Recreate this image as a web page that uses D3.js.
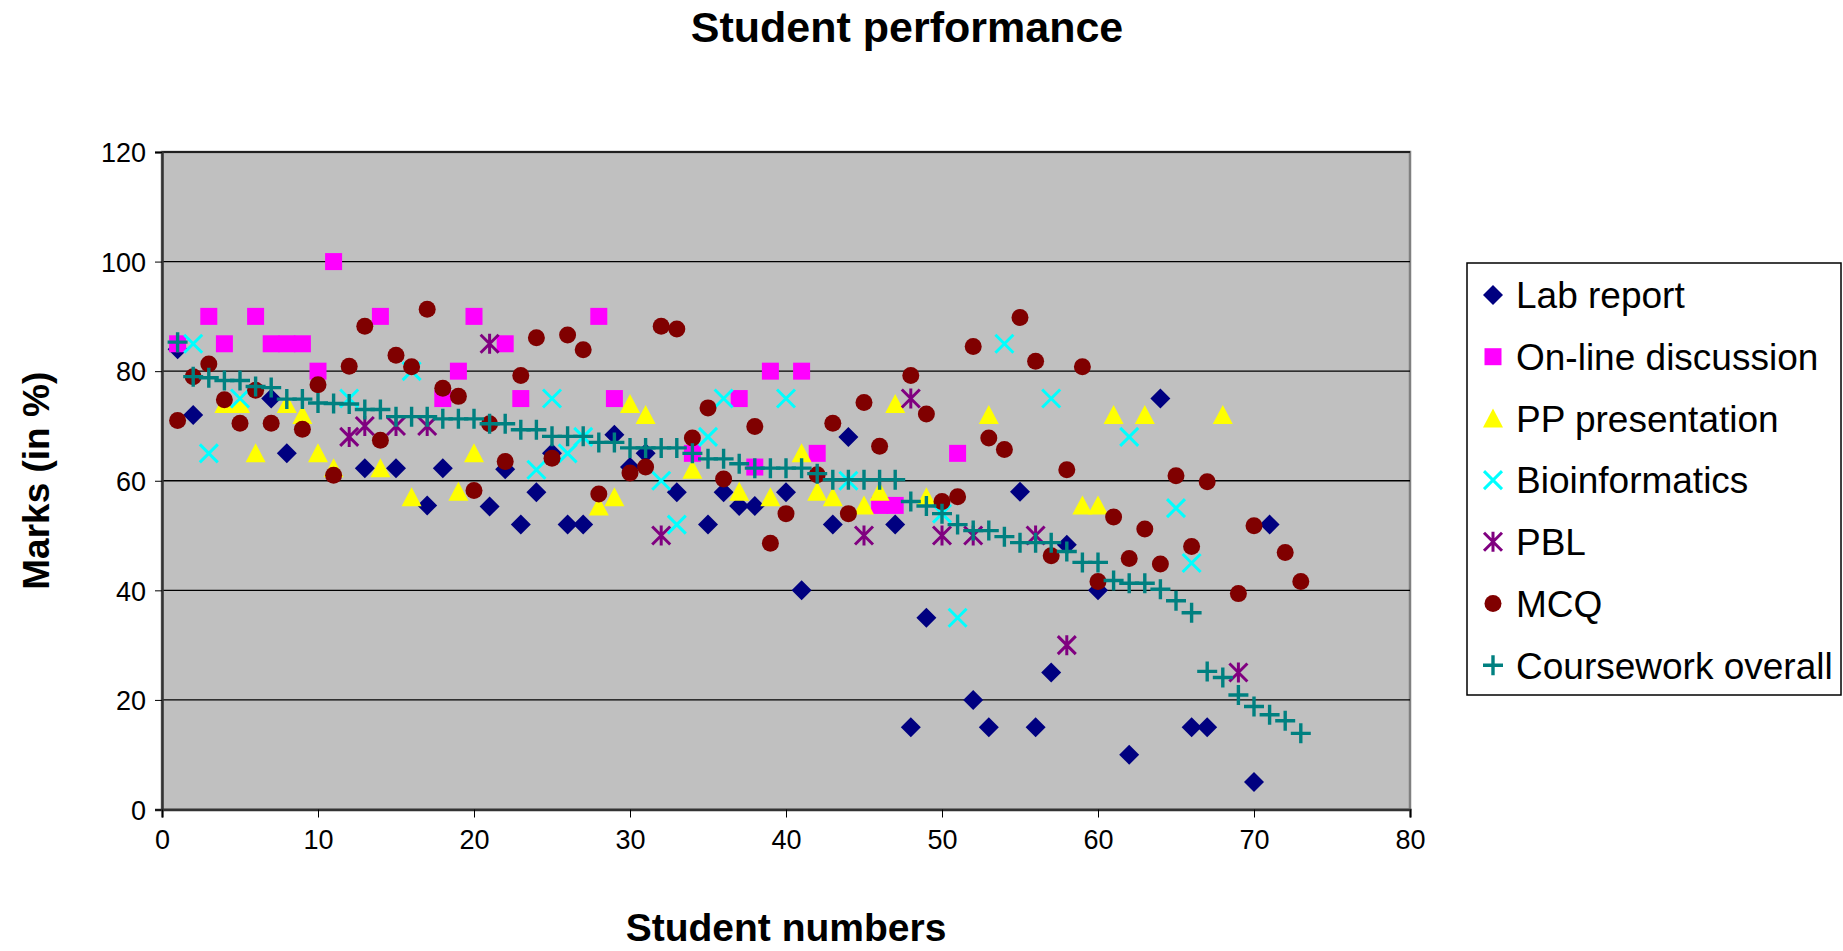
<!DOCTYPE html>
<html lang="en">
<head>
    <meta charset="UTF-8">
    <title>Student performance</title>
    <script src="https://cdn.jsdelivr.net/npm/d3@7"></script>
    <style>
        body { margin: 0; background: white; }
        text { font-family: 'Liberation Sans', Arial, sans-serif; }
    </style>
</head>
<body>
    <script>
        // [student number, mark %]
        const labReport = [[1,84],[2,72],[7,75],[8,65],[13,62.3],[15,62.3],[17,55.5],[18,62.3],[21,55.3],[22,62.1],[23,52],[24,57.9],[25,65],[26,52],[27,52],[29,68.4],[30,62.5],[31,65],[33,57.9],[35,52],[36,57.9],[37,55.4],[38,55.4],[40,57.9],[41,40],[43,52],[44,68],[47,52],[48,15],[49,35],[52,20],[53,15],[55,58],[56,15],[57,25],[58,48.3],[60,40],[62,10],[64,75],[66,15],[67,15],[70,5],[71,52]]
        const onlineDiscussion = [[1,85],[3,90],[4,85],[6,90],[7,85],[8,85],[9,85],[10,80],[11,100],[14,90],[18,75],[19,80],[20,90],[22,85],[23,75],[28,90],[29,75],[34,65],[37,75],[38,62.5],[39,80],[41,80],[42,65],[46,55.5],[47,55.5],[51,65]]
        const ppPresentation = [[4,74],[5,74],[6,65],[8,74],[9,72],[10,65],[11,62.3],[14,62.3],[16,57],[19,58],[20,65],[28,55.3],[29,57],[30,74],[31,72],[34,62],[37,58],[39,57],[41,65],[42,58],[43,57],[45,55.5],[46,58],[47,74],[49,57],[53,72],[59,55.5],[60,55.5],[61,72],[63,72],[68,72]]
        const bioinformatics = [[2,85],[3,65],[5,75],[12,75],[16,80],[24,62],[25,75],[26,65],[27,68],[32,60],[33,52],[35,68],[36,75],[40,75],[44,60],[50,54],[51,35],[54,85],[57,75],[62,68],[65,55],[66,45]]
        const pbl = [[12,68],[13,70],[15,70],[17,70],[21,85],[32,50],[45,50],[48,75],[50,50],[52,50],[56,50],[58,30],[69,25]]
        const mcq = [[1,71],[2,79],[3,81.3],[4,74.8],[5,70.5],[6,76.5],[7,70.5],[9,69.4],[10,77.5],[11,61],[12,80.9],[13,88.2],[14,67.4],[15,82.9],[16,80.8],[17,91.3],[18,76.9],[19,75.4],[20,58.2],[21,70.4],[22,63.5],[23,79.2],[24,86.1],[25,64.1],[26,86.6],[27,83.9],[28,57.6],[30,61.4],[31,62.5],[32,88.2],[33,87.7],[34,67.8],[35,73.3],[36,60.3],[38,69.9],[39,48.6],[40,54],[42,61.1],[43,70.5],[44,54],[45,74.3],[46,66.3],[48,79.2],[49,72.2],[50,56.2],[51,57.1],[52,84.5],[53,67.8],[54,65.7],[55,89.8],[56,81.8],[57,46.3],[58,62],[59,80.8],[60,41.6],[61,53.4],[62,45.8],[63,51.2],[64,44.8],[65,60.9],[66,48],[67,59.8],[69,39.4],[70,51.8],[72,46.9],[73,41.6]]
        // overall mark, students 1..73 (sorted)
        const courseworkOverall = [85.3,79,78.8,78.3,78.3,77.2,77,74.9,74.9,74.2,74.1,74,73,73,71.7,71.7,71.7,71.3,71.3,71.3,70.4,70.4,69.3,69.3,68.1,68.1,68.1,67,67,66,66,66,66,65,64,64,63.1,62.3,62.3,62.3,62.3,61.3,60.2,60.2,60.2,60.2,60.2,56.2,55.4,54,52,50.9,50.9,49.8,48.7,48.7,48.7,47.1,45.1,45.1,41.8,41.3,41.3,40.2,38.1,35.9,25.2,24.1,20.9,18.8,17.3,16.2,13.9]

        const xTicks = [0,10,20,30,40,50,60,70,80]
        const yTicks = [0,20,40,60,80,100,120]

        const series = [
            { name: 'Lab report', shape: 'diamond', color: '#000080', data: labReport },
            { name: 'On-line discussion', shape: 'square', color: '#FF00FF', data: onlineDiscussion },
            { name: 'PP presentation', shape: 'triangle', color: '#FFFF00', data: ppPresentation },
            { name: 'Bioinformatics', shape: 'x', color: '#00FFFF', data: bioinformatics },
            { name: 'PBL', shape: 'star', color: '#800080', data: pbl },
            { name: 'MCQ', shape: 'circle', color: '#800000', data: mcq },
            { name: 'Coursework overall', shape: 'plus', color: '#008080', data: courseworkOverall.map((v, i) => [i + 1, v]) }
        ]

        const width = 1843
        const height = 951
        const margin = { left: 162, top: 152, right: 433, bottom: 141.5 }

        const svg = d3.select('body')
            .append('svg')
            .attr('width', width)
            .attr('height', height)

        const x = d3.scaleLinear()
            .domain([0, 80])
            .range([margin.left, width - margin.right])

        const y = d3.scaleLinear()
            .domain([0, 120])
            .range([height - margin.bottom, margin.top])

        // plot area
        svg.append('rect')
            .attr('x', x(0))
            .attr('y', y(120))
            .attr('width', x(80) - x(0))
            .attr('height', y(0) - y(120))
            .attr('fill', '#C0C0C0')
            .attr('stroke', '#808080')
            .attr('stroke-width', 2.5)

        // gridlines
        svg.append('g')
            .selectAll('line')
            .data(yTicks.filter(d => d > 0))
            .enter()
            .append('line')
            .attr('x1', x(0))
            .attr('x2', x(80))
            .attr('y1', d => y(d))
            .attr('y2', d => y(d))
            .attr('stroke', '#000')
            .attr('stroke-width', 1.3)

        const yAxis = d3.axisLeft(y)
            .tickValues(yTicks)
            .tickSize(7)
            .tickPadding(9)

        const xAxis = d3.axisBottom(x)
            .tickValues(xTicks)
            .tickSize(8)
            .tickPadding(12)

        svg.append('g')
            .attr('transform', `translate(${x(0)},0)`)
            .call(yAxis)
            .call(g => g.selectAll('text').style('font-size', '27px').attr('fill', '#000').attr('dy', '0.36em'))
            .call(g => g.select('.domain').attr('stroke', '#333').attr('stroke-width', 2.5))

        svg.append('g')
            .attr('transform', `translate(0,${y(0)})`)
            .call(xAxis)
            .call(g => g.selectAll('text').style('font-size', '27px').attr('fill', '#000'))
            .call(g => g.select('.domain').attr('stroke', '#333').attr('stroke-width', 2.5))

        // marker paths, centred on 0,0
        function markerPath(shape) {
            switch (shape) {
                case 'diamond': return 'M0,-10L10,0L0,10L-10,0Z'
                case 'square': return 'M-8.5,-8.5H8.5V8.5H-8.5Z'
                case 'triangle': return 'M0,-10L10,9L-10,9Z'
                case 'circle': return d3.symbol(d3.symbolCircle, 227)()
                case 'x': return 'M-9,-9L9,9M-9,9L9,-9'
                case 'star': return 'M-9,-9L9,9M-9,9L9,-9M0,-10V10'
                case 'plus': return 'M-10,0H10M0,-10V10'
            }
        }
        const stroked = s => s === 'x' || s === 'star' || s === 'plus'

        function drawMarker(sel, s) {
            sel.attr('d', markerPath(s.shape))
                .attr('fill', stroked(s.shape) ? 'none' : s.color)
                .attr('stroke', stroked(s.shape) ? s.color : 'none')
                .attr('stroke-width', s.shape === 'plus' ? 3.4 : 3)
        }

        series.forEach(s => {
            svg.append('g')
                .selectAll('path')
                .data(s.data)
                .enter()
                .append('path')
                .attr('transform', d => `translate(${x(d[0])},${y(d[1])})`)
                .call(sel => drawMarker(sel, s))
        })

        // legend
        const legend = svg.append('g')

        legend.append('rect')
            .attr('x', 1467)
            .attr('y', 263)
            .attr('width', 374)
            .attr('height', 432)
            .attr('fill', 'white')
            .attr('stroke', '#000')
            .attr('stroke-width', 1.5)

        const items = legend.selectAll('g.item')
            .data(series)
            .enter()
            .append('g')
            .attr('class', 'item')
            .attr('transform', (d, i) => `translate(1493,${295 + i * 61.7})`)

        items.append('path')
            .each(function (d) { drawMarker(d3.select(this), d) })

        items.append('text')
            .attr('x', 23)
            .attr('dy', '0.36em')
            .style('font-size', '37px')
            .text(d => d.name)

        // titles
        svg.append('text')
            .attr('x', 907)
            .attr('y', 42)
            .attr('text-anchor', 'middle')
            .style('font-size', '43px')
            .style('font-weight', 'bold')
            .text('Student performance')

        svg.append('text')
            .attr('x', (x(0) + x(80)) / 2)
            .attr('y', 941)
            .attr('text-anchor', 'middle')
            .style('font-size', '39px')
            .style('font-weight', 'bold')
            .text('Student numbers')

        svg.append('text')
            .attr('transform', `translate(49,${(y(0) + y(120)) / 2}) rotate(-90)`)
            .attr('text-anchor', 'middle')
            .style('font-size', '37px')
            .style('font-weight', 'bold')
            .text('Marks (in %)')
    </script>
</body>
</html>
